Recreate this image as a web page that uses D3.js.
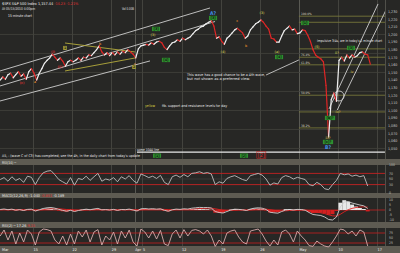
<!DOCTYPE html>
<html>
<head>
<meta charset="utf-8">
<script src="https://d3js.org/d3.v7.min.js"></script>
<style>
body{margin:0;background:#5e5b52;}
svg{display:block;font-family:"Liberation Sans Narrow","DejaVu Sans Condensed",sans-serif;}
</style>
</head>
<body>
<script>
//price closes, one every third of a trading day (day 0 = Mon 15 Mar)
var priceStart = -4.2, priceStep = 1 / 3;
var closes = [1140,1144,1141,1147,1149,1143,1147,1151,1145,1148,
              1141,1151,1155,1149,1140,1149,1155,1162,1166,1169,
              1174,1170,1166,1169,1165,1158,1164,1166,1164,1166,
              1169,1166,1170,1169,1173,1172,1176,1180,1185,1177,
              1173,1176,1172,1176,1173,1177,1174,1178,1176,1180,
              1177,1174,1169,1181,1185,1186,1187,1186,1189,1187,
              1190,1191,1189,1183,1180,1185,1189,1190,1193,1191,
              1195,1193,1195,1197,1201,1205,1207,1210,1211,1214,
              1216,1218,1211,1195,1197,1191,1187,1195,1198,1202,
              1206,1208,1205,1202,1195,1198,1206,1210,1214,1216,
              1219,1216,1211,1207,1195,1194,1190,1190,1198,1205,
              1208,1211,1206,1207,1201,1202,1206,1205,1199,1191,
              1180,1173,1170,1168,1164,1133,1065,1114,1123,1112,
              1166,1170,1165,1173,1169,1173,1170,1172,1176,1177,
              1174,1173,1161];

//indicators, two readings per trading day
var indStart = -4.2, indStep = 0.5;
var rsi14 = [48,55,42,58,45,52,38,60,56,30,
             55,72,78,80,65,48,40,32,55,28,
             52,48,60,45,58,70,42,50,46,55,
             40,58,50,62,45,35,68,62,55,60,
             52,63,38,30,58,64,56,66,58,70,
             72,76,70,73,68,30,40,35,52,58,
             62,55,48,44,62,66,70,64,50,28,
             36,32,55,62,58,50,56,52,48,30,
             26,38,30,15,12,30,45,70,65,68,
             60,64,58,62,25];
var macdLine = [0.5,1.0,0.3,0.8,-0.2,0.4,-0.5,0.6,0.8,-1.0,
                0.2,1.5,2.2,2.5,1.8,0.6,-0.4,-1.2,-0.3,-1.5,
                -0.5,0.2,0.8,0.3,1.0,1.6,0.2,0.4,0.0,0.6,
                -0.4,0.5,0.3,0.9,0.0,-1.0,1.2,1.5,1.0,1.3,
                0.8,1.2,-0.3,-1.2,0.2,0.9,0.6,1.2,0.9,1.8,
                2.2,2.6,2.4,2.5,2.0,-1.5,-2.5,-3.0,-1.5,0.0,
                0.8,0.6,0.2,-0.5,1.0,1.8,2.2,1.8,0.5,-2.2,
                -2.8,-3.2,-1.5,0.0,0.5,0.0,0.6,0.4,-0.2,-2.5,
                -4.5,-5.0,-5.5,-7.0,-9.5,-10.0,-7.0,3.0,8.0,8.5,
                7.0,6.0,5.0,4.2,1.5];
var macdSignal = [0.3,0.5,0.5,0.6,0.4,0.4,0.2,0.3,0.4,0.1,
                  0.1,0.4,0.8,1.2,1.3,1.2,0.9,0.5,0.3,-0.1,
                  -0.2,-0.1,0.1,0.2,0.3,0.6,0.5,0.5,0.4,0.4,
                  0.3,0.3,0.3,0.4,0.3,0.1,0.3,0.5,0.6,0.7,
                  0.7,0.8,0.6,0.3,0.3,0.4,0.4,0.6,0.6,0.8,
                  1.1,1.4,1.6,1.8,1.8,1.2,0.5,-0.2,-0.5,-0.4,
                  -0.2,0.0,0.0,-0.1,0.1,0.4,0.8,1.0,0.9,0.3,
                  -0.3,-0.9,-1.0,-0.8,-0.5,-0.4,-0.2,-0.1,-0.1,-0.6,
                  -1.4,-2.1,-2.8,-3.6,-4.8,-5.8,-6.1,-4.3,-1.8,0.3,
                  1.6,2.5,3.0,3.2,2.9];
var rsi2 = [60,90,40,85,20,75,30,90,70,15,
            80,95,92,85,40,20,60,15,70,20,
            85,55,90,30,80,92,15,60,40,80,
            20,85,50,90,30,10,95,80,50,85,
            45,88,20,12,70,90,50,92,60,88,
            92,85,70,90,60,8,40,20,75,85,
            90,55,30,20,85,90,95,70,35,10,
            40,15,80,90,70,30,85,60,40,12,
            8,35,20,10,5,30,60,95,90,70,
            85,60,90,80,10];

//axis ticks
var xTickLabels = ["Mar","15","22","29","Apr","5","12","19","26","May","10","17"];
var xTickDays = [-4.2,0,5,10,13,14,19,24,29,34,39,44];
var priceTicks = [1230,1220,1210,1200,1190,1180,1170,1160,1150,1140,1130,1120,1110,1100,1090,1080,1070,1060,1050];
var priceGrid = [1200,1175,1150,1125,1100,1075,1050];
var rsiTicks = [100,70,50,30,0];
var macdTicks = [10,5,0,-5,-10];
var stoTicks = [75,50,25];

//drawn lines [day0, price0, day1, price1]
var channelLines = [[-4.22,1151.9,22.63,1234.8],[-4.22,1132.2,23.28,1217.0],[-4.22,1112.4,14.96,1165.1]];
var wedgeLines = [[4.09,1188.7,13.04,1176.9],[4.09,1151.9,13.04,1169.0]];
var riseLines = [[37.85,1101.9,44.12,1240.1],[38.9,1100.5,45.14,1232.2]];
var arrowLine = [29.8,1146.6,34.0,1166.4];
var circleMark = [39.13,1119];
var levelLine = [13.3,45.0,1045];
var fibPrices = [1224,1216,1181,1170,1160,1120,1098,1077];
var fibLabels = ["100.0%","","","76.4%","61.8%","50.0%","","38.2%"];

//wave labels [day, price, text]
var greenTags = [[15.73,1207.2,"[3]"],[17.0,1166.4,"[4]"],[23.02,1221.6,"[3]"],[31.46,1170.3,"[4]"],
                 [34.78,1215.1,"[1]"],[40.66,1182.2,"[3]"],[37.98,1090.1,"[b]?"],[37.72,1058.5,"[c]?"],
                 [15.86,1040.5,"[1]"],[26.98,1040.5,"[2]"]];
var oliveTags = [[4.09,1182.2,"1"],[12.92,1157.2,"2"]];
var oliveText = [[24.3,1176.9,"(4)"],[29.28,1228.2,"(3)"],[31.2,1176.9,"(a)"],[36.32,1183.5,"(5)"],
                 [38.87,1175.6,"ii?"],[40.79,1150.6,"iv"],[37.72,1063.7,"iii?"],[39.0,1097.9,"iv?"],[15.35,1199.3,"(3)"]];
var orangeText = [[0.26,1137.4,"a"],[8.57,1187.4,"b"],[13.04,1161.1,"c"],[26.09,1217.7,"c"],[27.24,1184.8,"b"]];
var redText = [[2.56,1176.9,"(i)"],[3.45,1157.2,"(ii)"],[-1.41,1136.1,"(c)"]];
var blueText = [[23.02,1228.2,"A?"],[37.72,1051.9,"B?"]];
var redBig = [29.2,1041,"[2]"];

//notes [day, price, text]
var notes = [[19.69,1146.6,"This wave has a good chance to be a 4th wave,"],
             [19.69,1141.2,"but not shown as a preferred view."],
             [36.32,1191.4,"Impulsive 3/4s, are in today's 1 minute chart"],
             [16.5,1105.8,"fib. support and resistance levels for day"],
             [-3.96,1040,"A5, : (wave C of C3) has completed; see the 4h, in the daily chart from today's update"],
             [13.3,1048.5,"some 1044 line"]];
var noteWidths = [78,63,65,65,138,22];

window.onload = drawChart();

function drawChart(){

    var width = 400,
        height = 253,
        plotRight = 385;

    var svg = d3.select("body")
        .append("svg")
        .attr("width", width)
        .attr("height", height);

    //scales
    var x = d3.scaleLinear().domain([-4.22, 45.01]).range([0, plotRight]);
    var y = d3.scaleLinear().domain([1037.4, 1245.3]).range([158, 0]);
    var yRsi = d3.scaleLinear().domain([0, 100]).range([193, 165]);
    var yMacd = d3.scaleLinear().domain([-12, 12]).range([222, 198]);
    var ySto = d3.scaleLinear().domain([0, 100]).range([248, 228]).clamp(true);

    //panel backgrounds
    var panels = [[0, 159], [165, 193], [198, 222], [228, 246]];
    svg.selectAll(".panel")
        .data(panels)
        .enter()
        .append("rect")
        .attr("x", 0)
        .attr("y", function(d){ return d[0]; })
        .attr("width", width)
        .attr("height", function(d){ return d[1] - d[0]; })
        .attr("fill", "#272725");

    svg.append("clipPath").attr("id", "mainClip")
        .append("rect").attr("x", 0).attr("y", 0).attr("width", plotRight).attr("height", 159);

    //vertical grid through every panel
    panels.forEach(function(p){
        svg.selectAll(null)
            .data(xTickDays.slice(1))
            .enter()
            .append("line")
            .attr("x1", function(d){ return Math.round(x(d)) + 0.5; })
            .attr("x2", function(d){ return Math.round(x(d)) + 0.5; })
            .attr("y1", p[0]).attr("y2", p[1])
            .attr("stroke", function(d, i){ return (i == 3 || i == 8) ? "#66665f" : "#4a4a45"; })
            .attr("stroke-width", 0.8);
        svg.append("line")
            .attr("x1", plotRight + 0.5).attr("x2", plotRight + 0.5)
            .attr("y1", p[0]).attr("y2", p[1])
            .attr("stroke", "#5a5a54").attr("stroke-width", 0.8);
    });

    //horizontal price grid
    svg.selectAll(".pgrid")
        .data(priceGrid)
        .enter()
        .append("line")
        .attr("x1", 0).attr("x2", plotRight)
        .attr("y1", function(d){ return y(d); })
        .attr("y2", function(d){ return y(d); })
        .attr("stroke", "#43433e").attr("stroke-width", 0.8);

    var main = svg.append("g").attr("clip-path", "url(#mainClip)");

    //fib levels
    main.selectAll(".fib")
        .data(fibPrices)
        .enter()
        .append("line")
        .attr("x1", x(34)).attr("x2", plotRight)
        .attr("y1", function(d){ return y(d); })
        .attr("y2", function(d){ return y(d); })
        .attr("stroke", "#76763a").attr("stroke-width", 0.9);
    main.selectAll(".fibLab")
        .data(fibPrices)
        .enter()
        .append("text")
        .attr("x", x(34) + 2)
        .attr("y", function(d){ return y(d) - 0.8; })
        .attr("font-size", 3.2)
        .attr("fill", "#d8d8c0")
        .text(function(d, i){ return fibLabels[i]; });

    //white 1044 line
    main.append("line")
        .attr("x1", x(levelLine[0])).attr("x2", x(levelLine[1]))
        .attr("y1", y(levelLine[2])).attr("y2", y(levelLine[2]))
        .attr("stroke", "#e8e8e8").attr("stroke-width", 1.2);

    //trend lines
    function seg(sel, data, color, w){
        sel.selectAll(null)
            .data(data)
            .enter()
            .append("line")
            .attr("x1", function(d){ return x(d[0]); })
            .attr("y1", function(d){ return y(d[1]); })
            .attr("x2", function(d){ return x(d[2]); })
            .attr("y2", function(d){ return y(d[3]); })
            .attr("stroke", color)
            .attr("stroke-width", w);
    }
    seg(main, channelLines, "#cfcfcf", 0.9);
    seg(main, wedgeLines, "#b4ac3c", 0.9);
    seg(main, riseLines, "#cfcfcf", 0.9);
    seg(main, [arrowLine], "#dcdcdc", 0.8);

    main.append("circle")
        .attr("cx", x(circleMark[0])).attr("cy", y(circleMark[1]))
        .attr("r", 5)
        .attr("fill", "none").attr("stroke", "#dcdcdc").attr("stroke-width", 0.8);

    //price bars: white up, red down
    main.selectAll(".bar")
        .data(d3.range(1, closes.length))
        .enter()
        .append("line")
        .attr("x1", function(i){ return x(priceStart + (i - 1) * priceStep); })
        .attr("y1", function(i){ return y(closes[i - 1]); })
        .attr("x2", function(i){ return x(priceStart + i * priceStep); })
        .attr("y2", function(i){ return y(closes[i]); })
        .attr("stroke", function(i){ return closes[i] < closes[i - 1] ? "#e02626" : "#eeeeee"; })
        .attr("stroke-width", 1.2)
        .attr("stroke-linecap", "round");

    //wave labels
    function tags(data, bg, fg, size){
        var g = main.selectAll(null).data(data).enter().append("g")
            .attr("transform", function(d){ return "translate(" + x(d[0]) + "," + y(d[1]) + ")"; });
        if (bg) {
            g.append("rect")
                .attr("x", function(d){ return -d[2].length * size * 0.3 - 0.8; })
                .attr("y", -size * 0.6)
                .attr("width", function(d){ return d[2].length * size * 0.6 + 1.6; })
                .attr("height", size * 1.2)
                .attr("fill", bg);
        }
        g.append("text")
            .attr("text-anchor", "middle")
            .attr("y", size * 0.36)
            .attr("font-size", size)
            .attr("font-weight", "bold")
            .attr("fill", fg)
            .text(function(d){ return d[2]; });
    }
    tags(greenTags, "#2f8f2f", "#0c1a0c", 3.6);
    tags(oliveTags, "#a09a3a", "#1a1a0a", 3.4);
    tags(oliveText, null, "#b0a84a", 3.4);
    tags(orangeText, null, "#d07a2a", 3.4);
    tags(redText, null, "#d83030", 3.4);
    tags(blueText, null, "#3f8fe8", 5);

    var big = main.append("g").attr("transform", "translate(" + x(redBig[0]) + "," + y(redBig[1]) + ")");
    big.append("rect").attr("x", -4.5).attr("y", -4).attr("width", 9).attr("height", 7)
        .attr("fill", "none").attr("stroke", "#c02828").attr("stroke-width", 0.6);
    big.append("text").attr("text-anchor", "middle").attr("y", 2)
        .attr("font-size", 5.5).attr("fill", "#e03030").text(redBig[2]);

    //notes
    main.selectAll(".note")
        .data(notes)
        .enter()
        .append("text")
        .attr("x", function(d){ return x(d[0]); })
        .attr("y", function(d){ return y(d[1]) + 1.3; })
        .attr("font-size", 3.6)
        .attr("fill", "#e6e6e6")
        .attr("textLength", function(d, i){ return noteWidths[i]; })
        .attr("lengthAdjust", "spacingAndGlyphs")
        .text(function(d){ return d[2]; });
    main.append("text")
        .attr("x", x(14.32)).attr("y", y(1105.8) + 1.3)
        .attr("font-size", 3.6).attr("fill", "#d8d040")
        .attr("textLength", 10).attr("lengthAdjust", "spacingAndGlyphs")
        .text("yellow");

    //header
    function hdr(tx, ty, s, col, len){
        svg.append("text").attr("x", tx).attr("y", ty).attr("font-size", 3.8)
            .attr("fill", col).attr("textLength", len).attr("lengthAdjust", "spacingAndGlyphs").text(s);
    }
    //one text with coloured pieces
    function hdrParts(tx, ty, parts){
        var t = svg.append("text").attr("x", tx).attr("y", ty).attr("font-size", 3.8);
        parts.forEach(function(p){
            t.append("tspan").attr("fill", p[1]).text(p[0]);
        });
    }
    hdrParts(2, 4.5, [["$SPX S&P 500 Index  1,157.44   ", "#f0f0f0"], ["-14.23  -1.21%", "#e03030"]]);
    hdr(2, 9.5, "At 05/13/2010  4:00pm", "#e0e0e0", 33);
    hdr(122, 9.5, "Vol 0.00B", "#e0e0e0", 12);
    hdr(8, 16.5, "15 minute chart", "#f0f0f0", 24);

    //price axis labels
    svg.selectAll(".plab")
        .data(priceTicks)
        .enter()
        .append("text")
        .attr("x", 388)
        .attr("y", function(d){ return y(d) + 1.4; })
        .attr("font-size", 3.6)
        .attr("fill", "#c8c8c8")
        .text(function(d){ return d3.format(",")(d); });

    //RSI(14)
    [70, 30].forEach(function(v){
        svg.append("line").attr("x1", 0).attr("x2", plotRight)
            .attr("y1", yRsi(v)).attr("y2", yRsi(v))
            .attr("stroke", "#c42222").attr("stroke-width", 0.9);
    });
    svg.append("line").attr("x1", 0).attr("x2", plotRight)
        .attr("y1", yRsi(50)).attr("y2", yRsi(50))
        .attr("stroke", "#45453f").attr("stroke-width", 0.6);

    var indX = function(d, i){ return x(indStart + i * indStep); };

    svg.append("path")
        .datum(rsi14)
        .attr("d", d3.line().x(indX).y(function(d){ return yRsi(d); }))
        .attr("fill", "none").attr("stroke", "#bdbdbd").attr("stroke-width", 0.9);

    //MACD
    svg.append("line").attr("x1", 0).attr("x2", plotRight)
        .attr("y1", yMacd(0)).attr("y2", yMacd(0))
        .attr("stroke", "#c42222").attr("stroke-width", 0.8);
    var bw = x(indStep) - x(0);
    svg.selectAll(".hist")
        .data(macdLine)
        .enter()
        .append("rect")
        .attr("x", function(d, i){ return indX(d, i) - bw / 2; })
        .attr("width", bw)
        .attr("y", function(d, i){ return Math.min(yMacd(0), yMacd(d - macdSignal[i])); })
        .attr("height", function(d, i){ return Math.abs(yMacd(d - macdSignal[i]) - yMacd(0)); })
        .attr("fill", function(d, i){ return d - macdSignal[i] >= 0 ? "#e8e8e8" : "#d42020"; });
    svg.append("path")
        .datum(macdSignal)
        .attr("d", d3.line().x(indX).y(function(d){ return yMacd(d); }))
        .attr("fill", "none").attr("stroke", "#e02020").attr("stroke-width", 0.9);
    svg.append("path")
        .datum(macdLine)
        .attr("d", d3.line().x(indX).y(function(d){ return yMacd(d); }))
        .attr("fill", "none").attr("stroke", "#cfcfcf").attr("stroke-width", 0.9);

    //RSI(2)
    stoTicks.filter(function(v){ return v != 50; }).forEach(function(v){
        svg.append("line").attr("x1", 0).attr("x2", plotRight)
            .attr("y1", ySto(v)).attr("y2", ySto(v))
            .attr("stroke", "#b42020").attr("stroke-width", 0.9);
    });
    svg.append("path")
        .datum(rsi2)
        .attr("d", d3.line().x(indX).y(function(d){ return ySto(d); }))
        .attr("fill", "none").attr("stroke", "#d6aaaa").attr("stroke-width", 0.9);

    //indicator axis labels
    function rlab(ticks, sc){
        svg.selectAll(null).data(ticks).enter().append("text")
            .attr("x", 389).attr("y", function(d){ return sc(d) + 1.3; })
            .attr("font-size", 3.4).attr("fill", "#c0c0c0")
            .text(function(d){ return d; });
    }
    rlab(rsiTicks, yRsi);
    rlab(macdTicks, yMacd);
    rlab(stoTicks, ySto);

    //panel titles in the bands
    hdr(2, 163.6, "RSI(14) \u2500", "#e8e8e8", 14);
    hdrParts(2, 196.8, [["MACD(12,26,9) -1.040 ", "#e8e8e8"], ["-0.851 ", "#e03030"], ["-0.189", "#e8e8e8"]]);
    hdrParts(2, 226.6, [["RSI(2) \u2500 17.26 ", "#e8e8e8"], ["9.15", "#e03030"]]);

    //date axis
    svg.selectAll(".xlab")
        .data(xTickDays)
        .enter()
        .append("text")
        .attr("x", function(d, i){ return i == 0 ? 2 : x(d) + 0.5; })
        .attr("y", 251)
        .attr("font-size", 3.8)
        .attr("fill", "#ececec")
        .text(function(d, i){ return xTickLabels[i]; });
};
</script>
</body>
</html>
